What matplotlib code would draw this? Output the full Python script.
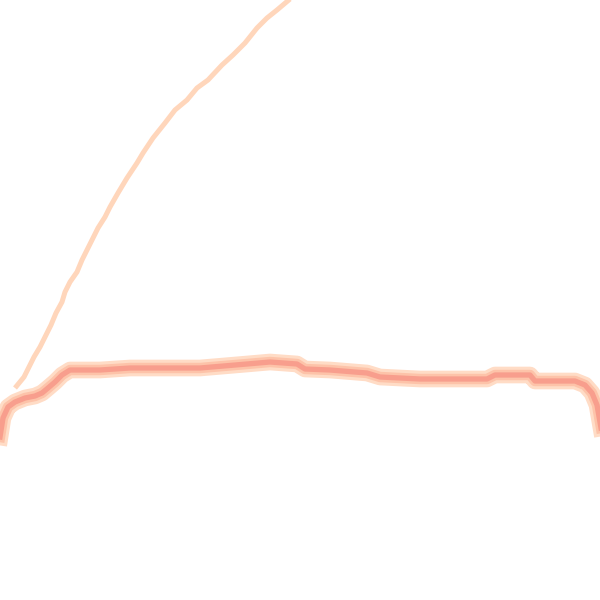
import matplotlib
matplotlib.use("Agg")
import matplotlib.pyplot as plt

# thin rising line (pixel-space readings, y grows downward)
thin_x = [15, 24, 29, 34, 40, 45, 51, 56, 62, 65, 70, 77, 82, 88, 93, 98, 105,
          110, 118, 127, 137, 143, 153, 165, 175, 187, 197, 208, 222, 233, 245,
          257, 267, 277, 290]
thin_y = [388, 377, 367, 357, 347, 337, 325, 313, 302, 292, 282, 272, 260, 248,
          238, 228, 217, 207, 193, 178, 163, 153, 138, 123, 110, 100, 88, 80,
          65, 55, 43, 28, 18, 10, -1]

# thick flat line
thick_x = [0, 3, 8, 15, 25, 35, 42, 48, 55, 62, 70, 100, 130, 170, 200, 247,
           270, 297, 305, 330, 367, 380, 420, 487, 495, 530, 535, 575, 585,
           592, 597, 601]
thick_y = [437, 418, 407, 402, 398, 396, 393, 388, 382, 375, 370, 370, 368,
           368, 368, 364, 362, 364, 369, 370, 373, 377, 379, 379, 375, 375,
           381, 381, 385, 393, 405, 428]

fig = plt.figure(figsize=(6, 6), dpi=100)
ax = fig.add_axes([0, 0, 1, 1])
ax.set_xlim(0, 600)
ax.set_ylim(600, 0)
ax.axis("off")

ax.plot(thin_x, thin_y, color="#ffd6bb", lw=3.6, solid_capstyle="butt")
ax.plot(thick_x, thick_y, color="#ffdcc6", lw=12, solid_joinstyle="round")
ax.plot(thick_x, thick_y, color="#fdc3a9", lw=7.5, solid_joinstyle="round")
ax.plot(thick_x, thick_y, color="#f89e8d", lw=3.8, solid_joinstyle="round")

fig.savefig("out.png", dpi=100)
